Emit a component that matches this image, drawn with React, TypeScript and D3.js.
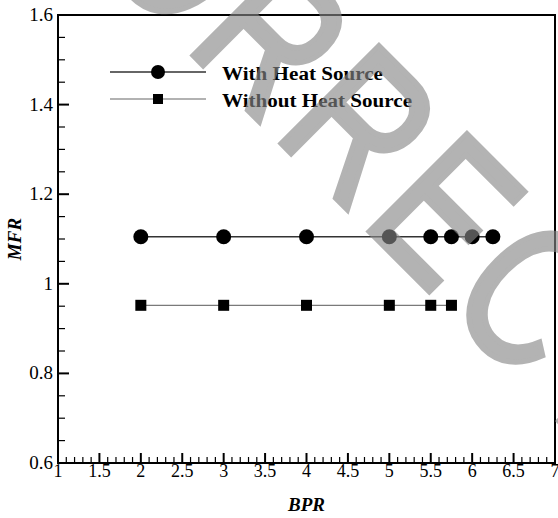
import React, { useEffect, useRef } from 'react';
import * as d3 from 'd3';

const bprWith = [2, 3, 4, 5, 5.5, 5.75, 6, 6.25];
const mfrWith = [1.105, 1.105, 1.105, 1.105, 1.105, 1.105, 1.105, 1.105];
const bprWithout = [2, 3, 4, 5, 5.5, 5.75];
const mfrWithout = [0.952, 0.952, 0.952, 0.952, 0.952, 0.952];
const xTickLabels = ['1', '1.5', '2', '2.5', '3', '3.5', '4', '4.5', '5', '5.5', '6', '6.5', '7'];
const yTickLabels = ['0.6', '0.8', '1', '1.2', '1.4', '1.6'];
const seriesNames = ['With Heat Source', 'Without Heat Source'];

const App = () => {
  const ref = useRef<SVGSVGElement>(null);

  const drawChart = () => {
    const width = 558;
    const height = 518;
    const margin = { top: 15, right: 3, bottom: 55, left: 58 };
    const svg = d3.select(ref.current);
    svg.selectAll('*').remove();
    svg.attr('width', width).attr('height', height);

    const x = d3.scaleLinear().domain([1, 7]).range([margin.left, width - margin.right]);
    const y = d3.scaleLinear().domain([0.6, 1.6]).range([height - margin.bottom, margin.top]);
    const serif = 'Liberation Serif, serif';

    // minor ticks
    const xMinor = d3.range(11, 70).map((d) => d / 10).filter((d) => Math.round(d * 10) % 5 !== 0);
    const yMinor = d3.range(13, 32).map((d) => d / 20).filter((d) => Math.round(d * 20) % 4 !== 0);
    const g = svg.append('g');
    g.selectAll('.xminor')
      .data(xMinor)
      .enter()
      .append('line')
      .attr('x1', (d) => x(d))
      .attr('x2', (d) => x(d))
      .attr('y1', y(0.6))
      .attr('y2', y(0.6) - 6)
      .attr('stroke', '#000')
      .attr('stroke-width', 1.2);
    g.selectAll('.xmajor')
      .data(xTickLabels)
      .enter()
      .append('line')
      .attr('x1', (d) => x(+d))
      .attr('x2', (d) => x(+d))
      .attr('y1', y(0.6))
      .attr('y2', y(0.6) - 10)
      .attr('stroke', '#000')
      .attr('stroke-width', 2);
    g.selectAll('.yminor')
      .data(yMinor)
      .enter()
      .append('line')
      .attr('x1', x(1))
      .attr('x2', x(1) + 7)
      .attr('y1', (d) => y(d))
      .attr('y2', (d) => y(d))
      .attr('stroke', '#000')
      .attr('stroke-width', 1.2);
    g.selectAll('.ymajor')
      .data(yTickLabels)
      .enter()
      .append('line')
      .attr('x1', x(1))
      .attr('x2', x(1) + 11)
      .attr('y1', (d) => y(+d))
      .attr('y2', (d) => y(+d))
      .attr('stroke', '#000')
      .attr('stroke-width', 2);

    // frame
    svg
      .append('rect')
      .attr('x', x(1))
      .attr('y', y(1.6))
      .attr('width', x(7) - x(1))
      .attr('height', y(0.6) - y(1.6))
      .attr('fill', 'none')
      .attr('stroke', '#000')
      .attr('stroke-width', 2);

    // tick labels
    svg
      .append('g')
      .attr('font-family', serif)
      .attr('font-size', 18)
      .attr('text-anchor', 'middle')
      .selectAll('text')
      .data(xTickLabels)
      .enter()
      .append('text')
      .attr('x', (d) => x(+d))
      .attr('y', y(0.6) + 14)
      .text((d) => d);
    svg
      .append('g')
      .attr('font-family', serif)
      .attr('font-size', 19)
      .attr('text-anchor', 'end')
      .selectAll('text')
      .data(yTickLabels)
      .enter()
      .append('text')
      .attr('x', x(1) - 5)
      .attr('y', (d) => y(+d) + 6)
      .text((d) => d);

    // axis titles
    svg
      .append('text')
      .attr('x', (x(1) + x(7)) / 2)
      .attr('y', 511)
      .attr('text-anchor', 'middle')
      .attr('font-family', serif)
      .attr('font-size', 19)
      .attr('font-weight', 'bold')
      .attr('font-style', 'italic')
      .text('BPR');
    svg
      .append('text')
      .attr('transform', 'translate(21,239) rotate(-90)')
      .attr('text-anchor', 'middle')
      .attr('font-family', serif)
      .attr('font-size', 19)
      .attr('font-weight', 'bold')
      .attr('font-style', 'italic')
      .text('MFR');

    // series
    const line = d3
      .line<number>()
      .x((d) => x(d[0]))
      .y((d) => y(d[1]));
    const withPts = bprWith.map((b, i) => [b, mfrWith[i]]);
    const withoutPts = bprWithout.map((b, i) => [b, mfrWithout[i]]);
    svg
      .append('path')
      .attr('d', line(withoutPts as any))
      .attr('fill', 'none')
      .attr('stroke', '#7a7a7a')
      .attr('stroke-width', 1.3);
    svg
      .append('path')
      .attr('d', line(withPts as any))
      .attr('fill', 'none')
      .attr('stroke', '#333')
      .attr('stroke-width', 1.3);
    svg
      .append('g')
      .selectAll('circle')
      .data(withPts)
      .enter()
      .append('circle')
      .attr('cx', (d) => x(d[0]))
      .attr('cy', (d) => y(d[1]))
      .attr('r', 7.5)
      .attr('fill', '#000');
    svg
      .append('g')
      .selectAll('rect')
      .data(withoutPts)
      .enter()
      .append('rect')
      .attr('x', (d) => x(d[0]) - 5.5)
      .attr('y', (d) => y(d[1]) - 5.5)
      .attr('width', 11)
      .attr('height', 11)
      .attr('fill', '#000');

    // legend
    const legend = svg.append('g').attr('font-family', serif).attr('font-size', 18).attr('font-weight', 'bold');
    legend.append('line').attr('x1', 110).attr('x2', 206).attr('y1', 72).attr('y2', 72).attr('stroke', '#333').attr('stroke-width', 1.3);
    legend.append('circle').attr('cx', 158).attr('cy', 72).attr('r', 7).attr('fill', '#000');
    legend
      .append('text')
      .attr('x', 222)
      .attr('y', 80)
      .attr('textLength', 161)
      .attr('lengthAdjust', 'spacingAndGlyphs')
      .text(seriesNames[0]);
    legend.append('line').attr('x1', 110).attr('x2', 206).attr('y1', 99).attr('y2', 99).attr('stroke', '#999').attr('stroke-width', 1.3);
    legend.append('rect').attr('x', 153).attr('y', 94).attr('width', 10).attr('height', 10).attr('fill', '#000');
    legend
      .append('text')
      .attr('x', 222)
      .attr('y', 107)
      .attr('textLength', 190)
      .attr('lengthAdjust', 'spacingAndGlyphs')
      .text(seriesNames[1]);

    // watermark
    svg
      .append('text')
      .attr('transform', 'translate(2,-136) rotate(45) scale(0.79,1)')
      .attr('font-family', 'Liberation Sans, Arial, sans-serif')
      .attr('font-size', 200)
      .attr('letter-spacing', 13)
      .attr('fill', '#878787')
      .attr('stroke', '#878787')
      .attr('stroke-width', 6)
      .attr('stroke-linejoin', 'miter')
      .attr('opacity', 0.63)
      .text('CORRECTED PROOF');
  };

  useEffect(() => {
    document.body.style.margin = '0';
    drawChart();
  }, []);

  return <svg ref={ref} style={{ display: 'block' }} />;
};

export default App;
